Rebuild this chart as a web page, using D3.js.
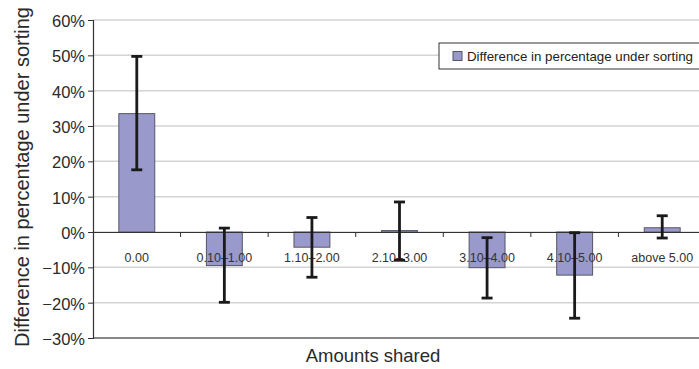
<!DOCTYPE html>
<html>
<head>
<meta charset="utf-8">
<script src="https://cdn.jsdelivr.net/npm/d3@7"></script>
<style>
  body { margin: 0; background: #fff; }
  svg { display: block; font-family: "Liberation Sans", Arial, sans-serif; }
</style>
</head>
<body>
<div id="chart"></div>
<script>
// Data (percent)
const categories = ["0.00", "0.10\u20131.00", "1.10\u20132.00", "2.10\u20133.00", "3.10\u20134.00", "4.10\u20135.00", "above 5.00"];
const diffValues = [33.5, -9.5, -4.3, 0.4, -10.1, -12.2, 1.2];
const errHigh = [49.7, 1.1, 4.1, 8.5, -1.6, -0.2, 4.6];
const errLow = [17.6, -19.9, -12.8, -8.0, -18.7, -24.4, -1.7];
const yTicks = [-30, -20, -10, 0, 10, 20, 30, 40, 50, 60];

const svgWidth = 699;
const svgHeight = 369;
const margin = { top: 20, right: -7, bottom: 31, left: 93 };
const chartWidth = svgWidth - margin.left - margin.right;
const chartHeight = svgHeight - margin.top - margin.bottom;

const svg = d3.select("#chart")
  .append("svg")
  .attr("width", svgWidth)
  .attr("height", svgHeight);

const chart = svg.append("g")
  .attr("transform", `translate(${margin.left}, ${margin.top})`);

// Scales
const xScale = d3.scaleBand()
  .domain(categories)
  .range([0, chartWidth])
  .paddingInner(0.59)
  .paddingOuter(0.295);

const xBand = d3.scaleBand()
  .domain(categories)
  .range([0, chartWidth]);

const yScale = d3.scaleLinear()
  .domain([-30, 60])
  .range([chartHeight, 0]);

// Gridlines
chart.append("g")
  .selectAll("line")
  .data(yTicks)
  .join("line")
  .attr("x1", 0)
  .attr("x2", chartWidth)
  .attr("y1", d => yScale(d))
  .attr("y2", d => yScale(d))
  .attr("stroke", "#d4d4d4")
  .attr("stroke-width", 1.5);

// Bars
chart.append("g")
  .selectAll("rect")
  .data(diffValues)
  .join("rect")
  .attr("x", (d, i) => xScale(categories[i]))
  .attr("width", xScale.bandwidth())
  .attr("y", d => yScale(Math.max(0, d)))
  .attr("height", d => Math.abs(yScale(d) - yScale(0)))
  .attr("fill", "#9999cc")
  .attr("stroke", "#555566")
  .attr("stroke-width", 1);

// Zero axis with tick marks between categories
const xAxis = d3.axisBottom(xBand).tickSize(0).tickFormat("");
const zeroAxis = chart.append("g")
  .attr("transform", `translate(0, ${yScale(0)})`)
  .call(xAxis);
zeroAxis.select(".domain").attr("stroke", "#333").attr("stroke-width", 1.2);

chart.append("g")
  .selectAll("line")
  .data(categories.slice(1))
  .join("line")
  .attr("x1", d => xBand(d))
  .attr("x2", d => xBand(d))
  .attr("y1", yScale(0))
  .attr("y2", yScale(0) + 5)
  .attr("stroke", "#333")
  .attr("stroke-width", 1);

// Category labels
chart.append("g")
  .selectAll("text")
  .data(categories)
  .join("text")
  .attr("x", d => xBand(d) + xBand.bandwidth() / 2)
  .attr("y", yScale(0) + 30)
  .attr("text-anchor", "middle")
  .attr("font-size", 12.5)
  .attr("fill", "#333")
  .text(d => d);

// Error bars
const errG = chart.append("g")
  .attr("stroke", "#1a1a1a")
  .attr("stroke-width", 2.8);
categories.forEach((c, i) => {
  const cx = xBand(c) + xBand.bandwidth() / 2;
  errG.append("line")
    .attr("x1", cx).attr("x2", cx)
    .attr("y1", yScale(errHigh[i])).attr("y2", yScale(errLow[i]));
  [errHigh[i], errLow[i]].forEach(v => {
    errG.append("line")
      .attr("x1", cx - 5.5).attr("x2", cx + 5.5)
      .attr("y1", yScale(v)).attr("y2", yScale(v));
  });
});

// Y axis
const yAxis = d3.axisLeft(yScale)
  .tickValues(yTicks)
  .tickSize(5)
  .tickFormat(d => (d < 0 ? "\u2212" + Math.abs(d) : d) + "%");
const yG = chart.append("g").call(yAxis);
yG.select(".domain").attr("stroke", "#333").attr("stroke-width", 1.2);
yG.selectAll(".tick line").attr("stroke", "#333");
yG.selectAll(".tick text")
  .attr("font-size", 16.5)
  .attr("fill", "#2a2a2a")
  .attr("x", -8)
  .attr("dy", "0.4em");

// Bottom frame line
chart.append("line")
  .attr("x1", 0)
  .attr("x2", chartWidth)
  .attr("y1", yScale(-30))
  .attr("y2", yScale(-30))
  .attr("stroke", "#333")
  .attr("stroke-width", 1.2);

// Axis titles
svg.append("text")
  .attr("transform", `translate(29, ${margin.top + yScale(15) - 2}) rotate(-90)`)
  .attr("text-anchor", "middle")
  .attr("font-size", 20)
  .attr("fill", "#2a2a2a")
  .text("Difference in percentage under sorting");

svg.append("text")
  .attr("x", 373)
  .attr("y", 362)
  .attr("text-anchor", "middle")
  .attr("font-size", 18.5)
  .attr("fill", "#2a2a2a")
  .text("Amounts shared");

// Legend
const legend = svg.append("g").attr("transform", "translate(439, 43)");
legend.append("rect")
  .attr("width", 300)
  .attr("height", 26)
  .attr("fill", "#fff")
  .attr("stroke", "#333")
  .attr("stroke-width", 1);
legend.append("rect")
  .attr("x", 14)
  .attr("y", 8.5)
  .attr("width", 9)
  .attr("height", 9)
  .attr("fill", "#9999cc")
  .attr("stroke", "#555566");
legend.append("text")
  .attr("x", 28)
  .attr("y", 18)
  .attr("font-size", 13.3)
  .attr("fill", "#222")
  .text("Difference in percentage under sorting");
</script>
</body>
</html>
